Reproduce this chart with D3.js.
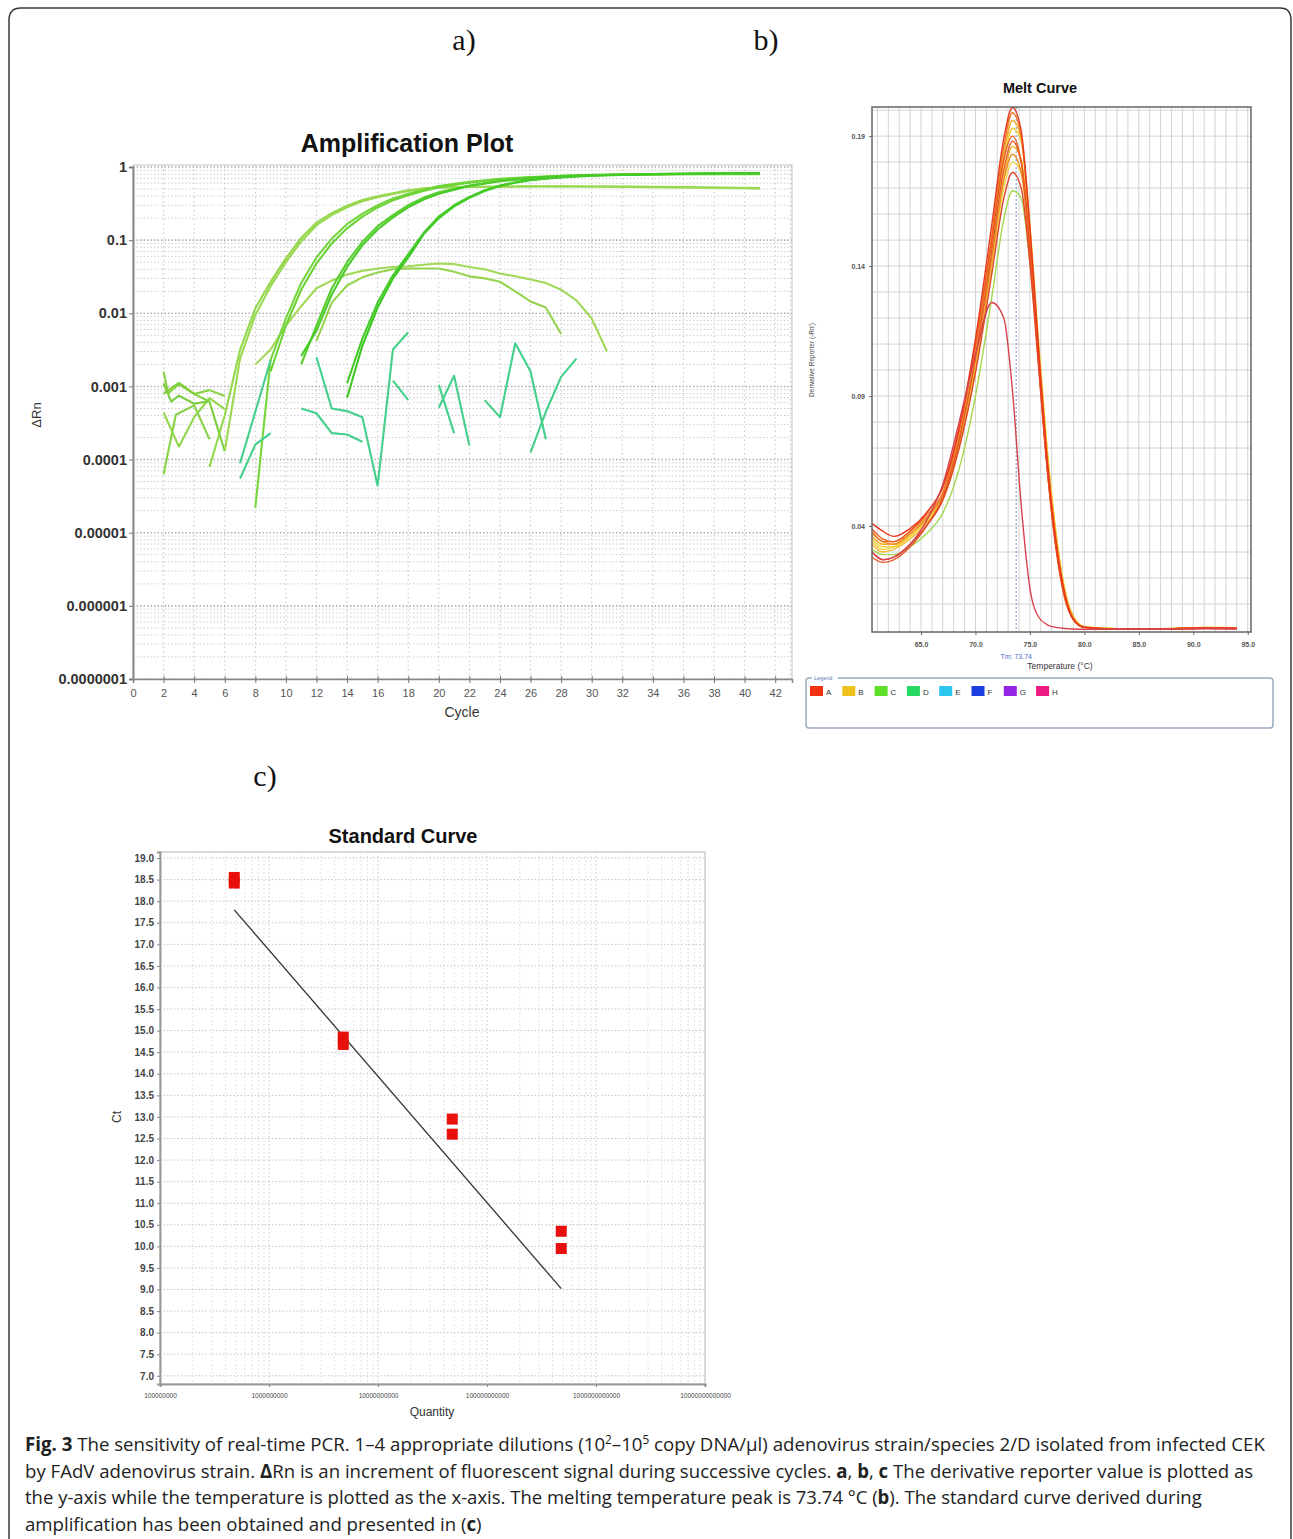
<!DOCTYPE html>
<html>
<head>
<meta charset="utf-8">
<script src="https://cdn.jsdelivr.net/npm/d3@7"></script>
<style>
  body { margin: 0; background: #fff; }
  svg text { font-family: "Liberation Sans", Arial, sans-serif; }
</style>
</head>
<body>
<svg id="fig" width="1293" height="1539"></svg>
<script>
// ---------- a) amplification plot data: [cycle, deltaRn] ----------
const ampXTicks = [0, 2, 4, 6, 8, 10, 12, 14, 16, 18, 20, 22, 24, 26, 28, 30, 32, 34, 36, 38, 40, 42];
const ampYTicks = [1, 0.1, 0.01, 0.001, 0.0001, 0.00001, 0.000001, 0.0000001];
const ampYLabels = ["1", "0.1", "0.01", "0.001", "0.0001", "0.00001", "0.000001", "0.0000001"];

const ampEarly1 = [[5, 7.9e-5], [6, 4.0e-4], [7, 3.16e-3], [8, 0.0117], [9, 0.0269], [10, 0.0562], [11, 0.107], [12, 0.174], [13, 0.234], [14, 0.295], [15, 0.355], [16, 0.398], [17, 0.437], [18, 0.479], [19, 0.513], [20, 0.525], [22, 0.537], [26, 0.545], [30, 0.54], [34, 0.535], [38, 0.525], [41, 0.515]];
const ampEarly2 = [[6, 1.3e-4], [7, 2.4e-3], [8, 0.0095], [9, 0.0235], [10, 0.050], [11, 0.096], [12, 0.160], [13, 0.220], [14, 0.282], [15, 0.340], [16, 0.385], [17, 0.427], [18, 0.47], [19, 0.505], [20, 0.52], [22, 0.533], [26, 0.54], [30, 0.54], [34, 0.53], [38, 0.52], [41, 0.51]];
const ampMid1 = [[8, 2.2e-5], [9, 0.0023], [10, 0.0085], [11, 0.026], [12, 0.058], [13, 0.105], [14, 0.165], [15, 0.23], [16, 0.30], [17, 0.37], [18, 0.43], [19, 0.49], [20, 0.55], [22, 0.63], [24, 0.69], [26, 0.73], [28, 0.76], [30, 0.78], [34, 0.80], [38, 0.81], [41, 0.81]];
const ampMid2 = [[9, 0.0016], [10, 0.0068], [11, 0.021], [12, 0.048], [13, 0.090], [14, 0.145], [15, 0.21], [16, 0.28], [17, 0.35], [18, 0.41], [19, 0.47], [20, 0.53], [22, 0.61], [24, 0.68], [26, 0.72], [28, 0.75], [30, 0.77], [34, 0.79], [38, 0.80], [41, 0.80]];
const ampLate1 = [[11, 0.0020], [12, 0.0068], [13, 0.022], [14, 0.050], [15, 0.095], [16, 0.155], [17, 0.22], [18, 0.30], [19, 0.38], [20, 0.45], [22, 0.56], [24, 0.65], [26, 0.71], [28, 0.75], [30, 0.77], [34, 0.80], [38, 0.81], [41, 0.81]];
const ampLate2 = [[11, 0.0026], [12, 0.0058], [13, 0.018], [14, 0.043], [15, 0.085], [16, 0.140], [17, 0.205], [18, 0.28], [19, 0.36], [20, 0.43], [22, 0.55], [24, 0.64], [26, 0.70], [28, 0.75], [30, 0.77], [34, 0.80], [38, 0.81], [41, 0.82]];
const ampLast1 = [[14, 0.0007], [15, 0.0036], [16, 0.012], [17, 0.030], [18, 0.058], [19, 0.12], [20, 0.20], [21, 0.29], [22, 0.38], [23, 0.47], [24, 0.55], [25, 0.61], [26, 0.66], [27, 0.69], [28, 0.72], [30, 0.76], [32, 0.78], [34, 0.80], [36, 0.81], [38, 0.82], [41, 0.82]];
const ampLast2 = [[14, 0.0011], [15, 0.0045], [16, 0.014], [17, 0.033], [18, 0.064], [19, 0.125], [20, 0.21], [21, 0.30], [22, 0.39], [23, 0.48], [24, 0.56], [25, 0.62], [26, 0.67], [27, 0.70], [28, 0.73], [30, 0.77], [32, 0.79], [34, 0.80], [36, 0.81], [38, 0.82], [41, 0.82]];
const ampHump1 = [[8, 0.0020], [9, 0.0032], [10, 0.0068], [11, 0.0125], [12, 0.022], [13, 0.028], [14, 0.034], [15, 0.038], [16, 0.041], [17, 0.043], [18, 0.044], [19, 0.046], [20, 0.048], [21, 0.047], [22, 0.043], [23, 0.040], [24, 0.035], [25, 0.032], [26, 0.029], [27, 0.026], [28, 0.021], [29, 0.015], [30, 0.0085], [31, 0.0030]];
const ampHump2 = [[12, 0.0042], [13, 0.014], [14, 0.024], [15, 0.031], [16, 0.036], [17, 0.040], [18, 0.041], [19, 0.041], [20, 0.041], [21, 0.037], [22, 0.032], [23, 0.030], [24, 0.027], [25, 0.020], [26, 0.0145], [27, 0.012], [28, 0.0052]];

// background noise before threshold
const noiseLow = [
  [[2, 0.0016], [2.3, 0.0008], [3, 0.00107], [4, 0.00079], [5, 0.00089], [6, 0.00074]],
  [[2, 0.0008], [3, 0.00112], [4, 0.00079], [5, 0.00062], [6, 0.00013]],
  [[2, 0.000063], [2.8, 0.00041], [4, 0.00055], [5, 0.00019]],
  [[2, 0.00044], [3, 0.00015], [4, 0.00038], [5, 0.00069], [6, 0.00049]],
  [[2, 0.0011], [2.5, 0.00062], [3, 0.00075], [4, 0.00058], [5, 0.00063]]
];
const noiseHigh = [
  [[7, 0.000089], [8, 0.00045], [9, 0.0023]],
  [[7, 0.000055], [8, 0.00016], [9, 0.00023]],
  [[12, 0.0025], [13, 0.00050], [14, 0.00046], [15, 0.00038], [16, 0.000044], [17, 0.0032], [18, 0.0055]],
  [[11, 0.00050], [12, 0.00043], [13, 0.00023], [14, 0.00022], [15, 0.000175]],
  [[17, 0.0012], [18, 0.00065]],
  [[20, 0.00105], [21, 0.00023]],
  [[20, 0.00051], [21, 0.0014], [22, 0.000155]],
  [[23, 0.00065], [24, 0.00038], [25, 0.0039], [26, 0.0016], [27, 0.00019]],
  [[26, 0.000125], [27, 0.00045], [28, 0.00135], [29, 0.0024]]
];

// ---------- b) melt curve data ----------
const meltTemps = [60.5, 61.5, 62.5, 64, 65.5, 67, 68.5, 70, 71.5, 72.6, 73.4, 74.2, 75, 75.8, 76.6, 77.4, 78.2, 79, 80, 83, 87, 91, 94];
const meltRed1    = [0.041, 0.038, 0.036, 0.039, 0.045, 0.055, 0.078, 0.112, 0.156, 0.189, 0.201, 0.192, 0.155, 0.108, 0.065, 0.034, 0.014, 0.004, 0.001, 0.0004, 0.0004, 0.0008, 0.0006];
const meltOrange1 = [0.038, 0.034, 0.034, 0.038, 0.044, 0.053, 0.076, 0.109, 0.152, 0.186, 0.199, 0.190, 0.153, 0.106, 0.064, 0.033, 0.013, 0.004, 0.001, 0.0005, 0.0004, 0.0008, 0.0008];
const meltAmber1  = [0.036, 0.033, 0.033, 0.037, 0.043, 0.052, 0.074, 0.106, 0.149, 0.183, 0.196, 0.189, 0.154, 0.108, 0.066, 0.035, 0.014, 0.005, 0.0012, 0.0004, 0.0005, 0.0009, 0.0008];
const meltYellow1 = [0.034, 0.031, 0.032, 0.036, 0.042, 0.051, 0.072, 0.103, 0.146, 0.180, 0.193, 0.188, 0.156, 0.111, 0.069, 0.037, 0.015, 0.005, 0.0012, 0.0005, 0.0004, 0.0010, 0.0009];
const meltRed2    = [0.039, 0.035, 0.034, 0.038, 0.045, 0.055, 0.077, 0.110, 0.150, 0.181, 0.190, 0.180, 0.146, 0.102, 0.061, 0.031, 0.012, 0.004, 0.001, 0.0004, 0.0004, 0.0007, 0.0007];
const meltAmber2  = [0.033, 0.030, 0.031, 0.035, 0.041, 0.050, 0.070, 0.100, 0.141, 0.174, 0.186, 0.181, 0.150, 0.108, 0.067, 0.036, 0.015, 0.005, 0.0013, 0.0005, 0.0005, 0.0009, 0.0008];
const meltOrange2 = [0.037, 0.034, 0.033, 0.037, 0.043, 0.052, 0.073, 0.104, 0.143, 0.173, 0.183, 0.176, 0.145, 0.103, 0.063, 0.033, 0.013, 0.004, 0.001, 0.0004, 0.0004, 0.0008, 0.0007];
const meltRed3    = [0.030, 0.027, 0.028, 0.033, 0.040, 0.050, 0.070, 0.099, 0.137, 0.166, 0.176, 0.170, 0.141, 0.101, 0.062, 0.032, 0.013, 0.004, 0.001, 0.0004, 0.0004, 0.0007, 0.0006];
const meltGreen   = [0.031, 0.029, 0.029, 0.032, 0.037, 0.045, 0.062, 0.090, 0.128, 0.158, 0.169, 0.166, 0.141, 0.104, 0.066, 0.036, 0.015, 0.005, 0.0012, 0.0005, 0.0004, 0.0008, 0.0007];
const meltYellow2 = [0.035, 0.032, 0.032, 0.036, 0.042, 0.051, 0.071, 0.101, 0.140, 0.170, 0.180, 0.176, 0.148, 0.108, 0.068, 0.037, 0.016, 0.005, 0.0013, 0.0005, 0.0005, 0.0010, 0.0009];
const meltRed4    = [0.028, 0.026, 0.027, 0.032, 0.040, 0.051, 0.073, 0.105, 0.146, 0.177, 0.188, 0.180, 0.147, 0.104, 0.062, 0.032, 0.013, 0.004, 0.001, 0.0004, 0.0004, 0.0007, 0.0006];
const meltLow     = [0.030, 0.027, 0.028, 0.033, 0.042, 0.056, 0.080, 0.106, 0.126, 0.120, 0.092, 0.048, 0.016, 0.005, 0.002, 0.001, 0.0006, 0.0004, 0.0003, 0.0003, 0.0003, 0.0005, 0.0004];
const meltTm = 73.74;
const meltXTicks = [65, 70, 75, 80, 85, 90, 95];
const meltYTicks = [0.19, 0.14, 0.09, 0.04];
const legendKeys = ["A", "B", "C", "D", "E", "F", "G", "H"];
const legendColors = ["#f03212", "#eec21a", "#5ee02a", "#26d864", "#2cc6ee", "#1a3ee0", "#9424e6", "#ee1a82"];

// ---------- c) standard curve data ----------
const stdQuantity = [4.8e8, 4.8e8, 4.8e9, 4.8e9, 4.8e10, 4.8e10, 4.8e11, 4.8e11];
const stdCt = [18.55, 18.42, 14.85, 14.68, 12.95, 12.6, 10.35, 9.95];
const stdFitQuantity = [4.8e8, 4.8e11];
const stdFitCt = [17.8, 9.02];
const stdXTicks = [1e8, 1e9, 1e10, 1e11, 1e12, 1e13];
const stdXLabels = ["100000000", "1000000000", "10000000000", "100000000000", "1000000000000", "10000000000000"];

const svg = d3.select("#fig");

// outer frame
svg.append("path")
  .attr("d", "M9,1545 L9,20 Q9,8 21,8 L1280,8 Q1291,8 1291,20 L1291,1545")
  .attr("fill", "none").attr("stroke", "#3a3a3a").attr("stroke-width", 1.5);

function panelLetter(x, y, t) {
  svg.append("text").attr("x", x).attr("y", y).attr("text-anchor", "middle")
    .style("font-family", "'Liberation Serif', 'DejaVu Serif', serif")
    .style("font-size", "30px").attr("fill", "#111").text(t);
}
panelLetter(464, 50, "a)");
panelLetter(766, 50, "b)");
panelLetter(265, 786, "c)");

// ================= a) Amplification plot =================
(function () {
  const L = 133, R = 792, T = 165, B = 679;
  const x = d3.scaleLinear().domain([0, 43.1]).range([L, R]);
  const y = d3.scaleLog().domain([1e-7, 1]).range([679, 167]);
  const g = svg.append("g");

  // grid
  const grid = g.append("g");
  grid.selectAll("line.v").data(ampXTicks.slice(1).concat([43])).join("line")
    .attr("x1", d => x(d)).attr("x2", d => x(d)).attr("y1", T).attr("y2", B)
    .attr("stroke", "#c6c6c6").attr("stroke-dasharray", "1.5,3");
  grid.selectAll("line.h").data(y.ticks()).join("line")
    .attr("x1", L).attr("x2", R).attr("y1", d => y(d)).attr("y2", d => y(d))
    .attr("stroke", d => ampYTicks.includes(d) ? "#b0b0b0" : "#cdcdcd")
    .attr("stroke-width", d => ampYTicks.includes(d) ? 1.6 : 1)
    .attr("stroke-dasharray", "1.5,2");

  g.append("rect").attr("x", L).attr("y", T).attr("width", R - L).attr("height", B - T)
    .attr("fill", "none").attr("stroke", "#c4c4c4");

  const line = d3.line().x(d => x(d[0])).y(d => y(d[1]));
  const curves = [
    [noiseLow[0], "#8ad444"], [noiseLow[1], "#7fd03e"], [noiseLow[2], "#86d246"], [noiseLow[3], "#92d64c"], [noiseLow[4], "#7ccc40"],
    [ampHump1, "#a2d858"], [ampHump2, "#96d450"],
    [ampEarly1, "#92d84a"], [ampEarly2, "#9ad850"],
    [ampMid1, "#74d63c"], [ampMid2, "#6cd236"],
    [ampLate1, "#56ce2e"], [ampLate2, "#4cca2a"],
    [ampLast1, "#3ec824"], [ampLast2, "#46ca28"]
  ];
  noiseHigh.forEach(n => curves.push([n, "#44d08a"]));
  g.selectAll("path.amp").data(curves).join("path")
    .attr("d", d => line(d[0])).attr("fill", "none")
    .attr("stroke", d => d[1]).attr("stroke-width", 2.1).attr("stroke-linejoin", "round");

  // axes
  const xa = g.append("g").attr("transform", `translate(0,${B})`)
    .call(d3.axisBottom(x).tickValues(ampXTicks).tickSize(4).tickFormat(d3.format("d")));
  xa.select(".domain").attr("stroke", "#888").attr("stroke-width", 1.5);
  xa.selectAll(".tick line").attr("stroke", "#777").attr("y1", -3);
  xa.selectAll("text").style("font-size", "11px").attr("fill", "#555").attr("dy", "1em");
  const ya = g.append("g").attr("transform", `translate(${L},0)`)
    .call(d3.axisLeft(y).tickValues(ampYTicks).tickSize(4).tickFormat((d, i) => ampYLabels[i]));
  ya.select(".domain").attr("stroke", "#888").attr("stroke-width", 2);
  ya.selectAll(".tick line").attr("stroke", "#777");
  ya.selectAll("text").style("font-size", "14.5px").style("font-weight", "bold").attr("fill", "#333").attr("x", -6);

  g.append("text").attr("x", 407).attr("y", 152).attr("text-anchor", "middle")
    .style("font-size", "25px").style("font-weight", "bold").attr("fill", "#111").text("Amplification Plot");
  g.append("text").attr("x", 462).attr("y", 717).attr("text-anchor", "middle")
    .style("font-size", "14px").attr("fill", "#333").text("Cycle");
  g.append("text").attr("transform", "translate(41,415) rotate(-90)").attr("text-anchor", "middle")
    .style("font-size", "13px").attr("fill", "#333").text("ΔRn");
})();

// ================= b) Melt curve =================
(function () {
  const L = 872, R = 1251, T = 107, B = 632;
  const x = d3.scaleLinear().domain([60.5, 95.3]).range([L, R]);
  const y = d3.scaleLinear().domain([-0.00077, 0.2012]).range([B, T]);
  const g = svg.append("g");

  g.selectAll("line.v").data(d3.range(61, 96)).join("line")
    .attr("x1", d => x(d)).attr("x2", d => x(d)).attr("y1", T).attr("y2", B)
    .attr("stroke", "#d3d3d3");
  g.selectAll("line.h").data(d3.range(0.01, 0.2001, 0.01)).join("line")
    .attr("x1", L).attr("x2", R).attr("y1", d => y(d)).attr("y2", d => y(d))
    .attr("stroke", "#d3d3d3");

  g.append("line").attr("x1", x(meltTm)).attr("x2", x(meltTm)).attr("y1", T).attr("y2", B)
    .attr("stroke", "#8a9fd0").attr("stroke-width", 1.2).attr("stroke-dasharray", "2,2");

  const line = d3.line().x((d, i) => x(meltTemps[i])).y(d => y(d)).curve(d3.curveMonotoneX);
  const melts = [
    [meltGreen, "#a4d84c"], [meltYellow2, "#f0d244"], [meltYellow1, "#f2cc30"], [meltAmber2, "#f4b832"],
    [meltAmber1, "#f4a626"], [meltOrange2, "#ee8c24"], [meltOrange1, "#f07822"], [meltRed4, "#e45a2a"],
    [meltRed2, "#ec5c20"], [meltRed3, "#e2462a"], [meltRed1, "#e8381c"], [meltLow, "#d8424e"]
  ];
  g.selectAll("path.melt").data(melts).join("path")
    .attr("d", d => line(d[0])).attr("fill", "none")
    .attr("stroke", d => d[1]).attr("stroke-width", 1.4);

  g.append("rect").attr("x", L).attr("y", T).attr("width", R - L).attr("height", B - T)
    .attr("fill", "none").attr("stroke", "#666").attr("stroke-width", 1.5);

  const xa = g.append("g").attr("transform", `translate(0,${B})`)
    .call(d3.axisBottom(x).tickValues(meltXTicks).tickSize(3).tickFormat(d3.format(".1f")));
  xa.select(".domain").remove();
  xa.selectAll(".tick line").attr("stroke", "#666");
  xa.selectAll("text").style("font-size", "7px").style("font-weight", "bold").attr("fill", "#555").attr("dy", "1.3em");
  const ya = g.append("g").attr("transform", `translate(${L},0)`)
    .call(d3.axisLeft(y).tickValues(meltYTicks).tickSize(3).tickFormat(d3.format(".2f")));
  ya.select(".domain").remove();
  ya.selectAll(".tick line").attr("stroke", "#666");
  ya.selectAll("text").style("font-size", "7px").style("font-weight", "bold").attr("fill", "#555").attr("x", -7);

  g.append("text").attr("x", 1040).attr("y", 93).attr("text-anchor", "middle")
    .style("font-size", "14.5px").style("font-weight", "bold").attr("fill", "#111").text("Melt Curve");
  g.append("text").attr("x", x(meltTm)).attr("y", 659).attr("text-anchor", "middle")
    .style("font-size", "7px").attr("fill", "#4a6ac8").text("Tm: 73.74");
  g.append("text").attr("x", 1060).attr("y", 669).attr("text-anchor", "middle")
    .style("font-size", "8.5px").attr("fill", "#333").text("Temperature (°C)");
  g.append("text").attr("transform", "translate(814,360) rotate(-90)").attr("text-anchor", "middle")
    .style("font-size", "6.5px").attr("fill", "#444").text("Derivative Reporter (-Rn')");

  // legend box
  const lg = g.append("g");
  lg.append("rect").attr("x", 806).attr("y", 678).attr("width", 467).attr("height", 50).attr("rx", 3)
    .attr("fill", "#fff").attr("stroke", "#9aabbf").attr("stroke-width", 1.5);
  lg.append("rect").attr("x", 812).attr("y", 675).attr("width", 26).attr("height", 6).attr("fill", "#fff");
  lg.append("text").attr("x", 814).attr("y", 680).style("font-size", "5.5px").attr("fill", "#5a7ab0").text("Legend");
  const items = lg.selectAll("g.item").data(legendKeys).join("g")
    .attr("transform", (d, i) => `translate(${810 + i * 32.3},686)`);
  items.append("rect").attr("width", 13).attr("height", 10).attr("fill", (d, i) => legendColors[i]);
  items.append("text").attr("x", 16).attr("y", 8.5).style("font-size", "8px").attr("fill", "#333").text(d => d);
})();

// ================= c) Standard curve =================
(function () {
  const L = 160, R = 705, T = 852, B = 1384;
  const x = d3.scaleLog().domain([1e8, 1e13]).range([L, R]);
  const y = d3.scaleLinear().domain([6.81, 19.14]).range([B, T]);
  const g = svg.append("g");

  g.selectAll("line.v").data(x.ticks()).join("line")
    .attr("x1", d => x(d)).attr("x2", d => x(d)).attr("y1", T).attr("y2", B)
    .attr("stroke", d => stdXTicks.includes(d) ? "#c8c8c8" : "#dcdcdc").attr("stroke-dasharray", "1.5,2.5");
  g.selectAll("line.h").data(d3.range(7, 19.01, 0.5)).join("line")
    .attr("x1", L).attr("x2", R).attr("y1", d => y(d)).attr("y2", d => y(d))
    .attr("stroke", "#c4c4c4").attr("stroke-dasharray", "1.5,2");

  g.append("rect").attr("x", L).attr("y", T).attr("width", R - L).attr("height", B - T)
    .attr("fill", "none").attr("stroke", "#d0d0d0").attr("stroke-width", 1.5);

  g.append("line")
    .attr("x1", x(stdFitQuantity[0])).attr("y1", y(stdFitCt[0]))
    .attr("x2", x(stdFitQuantity[1])).attr("y2", y(stdFitCt[1]))
    .attr("stroke", "#333").attr("stroke-width", 1.3);

  g.selectAll("rect.pt").data(stdCt).join("rect")
    .attr("x", (d, i) => x(stdQuantity[i]) - 5.5).attr("y", d => y(d) - 5.5)
    .attr("width", 11).attr("height", 11).attr("fill", "#e8100c");

  const xa = g.append("g").attr("transform", `translate(0,${B})`)
    .call(d3.axisBottom(x).tickValues(stdXTicks).tickSize(3).tickFormat((d, i) => stdXLabels[i]));
  xa.select(".domain").attr("stroke", "#999").attr("stroke-width", 2);
  xa.selectAll(".tick line").attr("stroke", "#888");
  xa.selectAll("text").style("font-size", "6.5px").attr("fill", "#444").attr("dy", "1.3em");
  const ya = g.append("g").attr("transform", `translate(${L},0)`)
    .call(d3.axisLeft(y).tickValues(d3.range(7, 19.01, 0.5)).tickSize(3).tickFormat(d3.format(".1f")));
  ya.select(".domain").attr("stroke", "#999").attr("stroke-width", 2);
  ya.selectAll(".tick line").attr("stroke", "#888");
  ya.selectAll("text").style("font-size", "10px").style("font-weight", "bold").attr("fill", "#444");

  g.append("text").attr("x", 403).attr("y", 843).attr("text-anchor", "middle")
    .style("font-size", "20px").style("font-weight", "bold").attr("fill", "#111").text("Standard Curve");
  g.append("text").attr("x", 432).attr("y", 1416).attr("text-anchor", "middle")
    .style("font-size", "12px").attr("fill", "#333").text("Quantity");
  g.append("text").attr("transform", "translate(121,1117) rotate(-90)").attr("text-anchor", "middle")
    .style("font-size", "12px").attr("fill", "#333").text("Ct");
})();

// ================= caption =================
const captionLines = [
  [["Fig. 3", "b"], [" The sensitivity of real-time PCR. 1–4 appropriate dilutions (10"], ["2", "sup"], ["–10"], ["5", "sup"], [" copy DNA/μl) adenovirus strain/species 2/D isolated from infected CEK"]],
  [["by FAdV adenovirus strain. "], ["Δ", "b"], ["Rn is an increment of fluorescent signal during successive cycles. "], ["a", "b"], [", "], ["b", "b"], [", "], ["c", "b"], [" The derivative reporter value is plotted as"]],
  [["the y-axis while the temperature is plotted as the x-axis. The melting temperature peak is 73.74 °C ("], ["b", "b"], ["). The standard curve derived during"]],
  [["amplification has been obtained and presented in ("], ["c", "b"], [")"]]
];
const captionWidths = [1240, 1229, 1177, 457];
captionLines.forEach((segs, i) => {
  const baseY = 1451 + i * 26.7;
  const t = svg.append("text").attr("x", 0).attr("y", 0)
    .style("font-family", "'Open Sans', 'Noto Sans', sans-serif").style("font-size", "19px").attr("fill", "#222");
  let raised = false;
  segs.forEach(s => {
    const ts = t.append("tspan").text(s[0]);
    if (s[1] === "b") ts.style("font-weight", "bold");
    if (s[1] === "sup") { ts.style("font-size", "12px").attr("dy", -7); raised = true; }
    else if (raised) { ts.attr("dy", 7); raised = false; }
  });
  const w = t.node().getComputedTextLength();
  t.attr("transform", `translate(25,${baseY}) scale(${captionWidths[i] / w},1)`);
});
</script>
</body>
</html>
